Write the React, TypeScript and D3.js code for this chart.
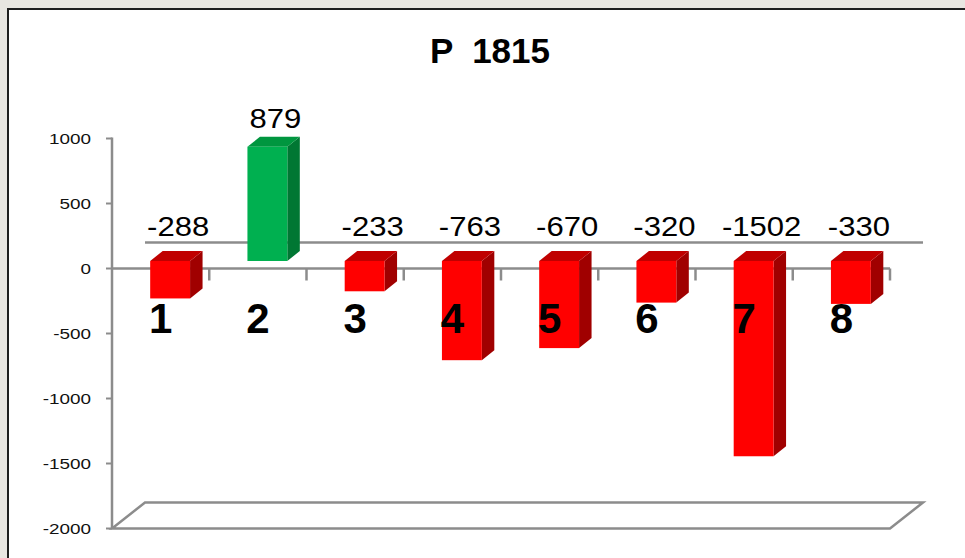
import { useEffect, useRef } from "react";
import * as d3 from "d3";

const categories = ["1", "2", "3", "4", "5", "6", "7", "8"];
const values = [-288, 879, -233, -763, -670, -320, -1502, -330];
const yTicks = [1000, 500, 0, -500, -1000, -1500, -2000];
const title = "P  1815";

export default function App() {
  const ref = useRef<SVGSVGElement>(null);

  useEffect(() => {
    const svg = d3.select(ref.current);
    svg.selectAll("*").remove();

    const width = 965;
    const height = 558;
    const grey = "#8c8c8c";

    // floor depth and bar depth offsets (fake 3d)
    const floor = { dx: 33, dy: -26 };
    const shift = { dx: 9.5, dy: -7.5 };
    const depth = { dx: 12.5, dy: -10 };

    svg.attr("width", width).attr("height", height);

    svg.append("rect").attr("width", width).attr("height", height).attr("fill", "#e8e6e1");
    svg.append("rect")
      .attr("x", 8).attr("y", 9)
      .attr("width", width + 10).attr("height", height + 10)
      .attr("fill", "#fff")
      .attr("stroke", "#1e1e1e")
      .attr("stroke-width", 2);

    const x = d3.scaleBand<string>().domain(categories).range([112, 890]);
    const y = d3.scaleLinear().domain([-2000, 1000]).range([528.5, 138.5]);
    const bw = x.bandwidth();
    const barW = bw * 0.41;

    // floor
    const y0 = y(-2000);
    svg.append("polygon")
      .attr("points", [
        [112, y0], [890, y0], [890 + floor.dx, y0 + floor.dy], [112 + floor.dx, y0 + floor.dy]
      ].map(p => p.join(",")).join(" "))
      .attr("fill", "none")
      .attr("stroke", grey)
      .attr("stroke-width", 2.5);

    // back zero line
    svg.append("line")
      .attr("x1", 112 + floor.dx).attr("x2", 890 + floor.dx)
      .attr("y1", y(0) + floor.dy).attr("y2", y(0) + floor.dy)
      .attr("stroke", grey).attr("stroke-width", 2.5);

    // y axis
    const yAxis = svg.append("g");
    yAxis.append("line")
      .attr("x1", 112).attr("x2", 112)
      .attr("y1", y(1000) - 1).attr("y2", y0)
      .attr("stroke", grey).attr("stroke-width", 2.5);
    yTicks.forEach(t => {
      yAxis.append("line")
        .attr("x1", 106).attr("x2", 112)
        .attr("y1", y(t)).attr("y2", y(t))
        .attr("stroke", grey).attr("stroke-width", 2);
      yAxis.append("text")
        .attr("transform", `translate(91,${y(t) + 5.5}) scale(1.22,1)`)
        .attr("text-anchor", "end")
        .attr("font-family", "'Liberation Sans', Arial, sans-serif")
        .attr("font-size", 15.5)
        .attr("fill", "#111")
        .text(t);
    });

    // category axis at zero
    svg.append("line")
      .attr("x1", 112).attr("x2", 890)
      .attr("y1", y(0)).attr("y2", y(0))
      .attr("stroke", grey).attr("stroke-width", 2.5);
    categories.forEach(c => {
      const tx = (x(c) as number) + bw;
      svg.append("line")
        .attr("x1", tx).attr("x2", tx)
        .attr("y1", y(0)).attr("y2", y(0) + 12)
        .attr("stroke", grey).attr("stroke-width", 2.5);
    });

    // bars
    const bars = svg.append("g");
    values.forEach((v, i) => {
      const xl = (x(categories[i]) as number) + (bw - barW) / 2 + shift.dx;
      const xr = xl + barW;
      const yt = y(Math.max(v, 0)) + shift.dy;
      const yb = y(Math.min(v, 0)) + shift.dy;
      const pos = v >= 0;
      const front = pos ? "#00b050" : "#ff0000";
      const top = pos ? "#00963f" : "#c00000";
      const side = pos ? "#007733" : "#a00000";
      const pts = (a: number[][]) => a.map(p => p.join(",")).join(" ");

      bars.append("polygon")
        .attr("points", pts([[xr, yt], [xr + depth.dx, yt + depth.dy], [xr + depth.dx, yb + depth.dy], [xr, yb]]))
        .attr("fill", side);
      bars.append("polygon")
        .attr("points", pts([[xl, yt], [xl + depth.dx, yt + depth.dy], [xr + depth.dx, yt + depth.dy], [xr, yt]]))
        .attr("fill", top);
      bars.append("rect")
        .attr("x", xl).attr("y", yt)
        .attr("width", barW).attr("height", yb - yt)
        .attr("fill", front);

      // value label
      const yBack = yt + depth.dy;
      bars.append("text")
        .attr("transform", `translate(${(xl + xr) / 2 + 8},${yBack - (pos ? 9 : 15)}) scale(1.15,1)`)
        .attr("text-anchor", "middle")
        .attr("font-family", "'Liberation Sans', Arial, sans-serif")
        .attr("font-size", 27)
        .attr("fill", "#000")
        .text(v);
    });

    // category labels
    categories.forEach(c => {
      svg.append("text")
        .attr("x", (x(c) as number) + bw / 2)
        .attr("y", 333)
        .attr("text-anchor", "middle")
        .attr("font-family", "'Liberation Sans', Arial, sans-serif")
        .attr("font-weight", "bold")
        .attr("font-size", 42)
        .attr("fill", "#000")
        .text(c);
    });

    svg.append("text")
      .attr("x", 490).attr("y", 63)
      .attr("text-anchor", "middle")
      .attr("font-family", "'Liberation Sans', Arial, sans-serif")
      .attr("font-weight", "bold")
      .attr("font-size", 35)
      .attr("fill", "#000")
      .attr("xml:space", "preserve")
      .style("white-space", "pre")
      .text(title);
  }, []);

  return <svg ref={ref} style={{ position: "absolute", left: 0, top: 0 }}></svg>;
}
